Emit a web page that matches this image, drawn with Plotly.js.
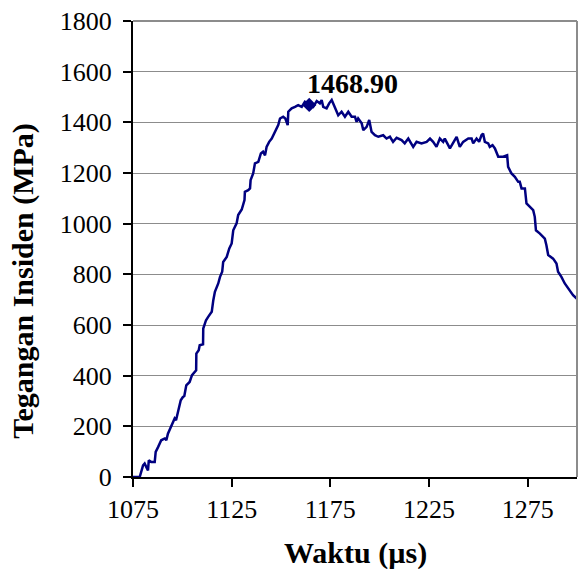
<!DOCTYPE html>
<html>
<head>
<meta charset="utf-8">
<script src="https://cdn.plot.ly/plotly-3.0.1.min.js"></script>
<style>html,body{margin:0;padding:0;background:#fff;}#chart{width:586px;height:569px;}</style>
</head>
<body>
<div id="chart"></div>
<script>
// Time (µs)
var waktu = [1075,1078.4,1080.1,1080.9,1081.7,1082.6,1083.0,1084.3,1086.0,1086.5,1087.7,1089.3,1091.1,1091.9,1092.7,1094.4,1096.1,1096.8,1097.8,1099.2,1100.3,1101.0,1102.0,1103.7,1104.9,1106.3,1107.0,1107.1,1108.3,1108.8,1110.5,1110.6,1112.0,1113.1,1114.9,1115.7,1116.5,1118.2,1119.1,1120.2,1120.7,1122.5,1123.8,1125.0,1125.8,1127.5,1128.3,1130.1,1130.9,1131.5,1131.7,1133.4,1134.3,1134.6,1135.9,1136.8,1138.5,1139.8,1140.9,1141.9,1142.7,1144.0,1145.3,1146.9,1148.6,1149.5,1151.1,1152.2,1153.4,1153.7,1155.4,1157.1,1158.7,1160.5,1162.1,1164.3,1166.3,1168.1,1169.7,1170.6,1171.4,1173.1,1174.4,1175.7,1177.3,1179.0,1180.7,1182.4,1184.1,1185.8,1187.5,1188.3,1189.1,1190.9,1191.7,1193.4,1194.7,1195.9,1197.6,1199.3,1201.8,1203.5,1205.2,1206.8,1208.6,1211.1,1212.7,1214.5,1217.0,1218.7,1221.2,1223.8,1225.5,1227.1,1228.8,1230.5,1232.2,1233.0,1235.6,1237.3,1239.0,1240.6,1242.3,1244.9,1246.6,1247.4,1249.1,1250.4,1251.6,1252.4,1253.3,1255.0,1255.8,1257.2,1258.4,1260.1,1262.6,1264.6,1265.1,1266.8,1268.5,1270.2,1271.0,1271.9,1273.6,1274.4,1276.1,1277.8,1278.6,1279.2,1281.2,1283.7,1284.5,1285.4,1287.9,1289.6,1290.4,1292.1,1293.8,1296.4,1298.0,1299.8,1301.4,1303.0];
// Incident stress (MPa)
var tegangan = [0,0,46,53,40,26,66,59,59,99,118,145,152,145,171,204,231,224,263,303,316,320,362,375,402,415,421,487,500,520,524,586,619,632,652,698,731,764,790,810,849,869,902,922,974,1001,1034,1056,1080,1093,1126,1132,1139,1172,1198,1238,1244,1277,1284,1270,1303,1323,1336,1362,1389,1415,1422,1415,1389,1442,1455,1461,1468,1461,1481,1468.9,1461,1484,1475,1488,1461,1455,1475,1488,1455,1428,1442,1422,1442,1422,1422,1402,1415,1396,1369,1382,1409,1362,1349,1343,1349,1336,1343,1323,1339,1330,1317,1336,1303,1323,1317,1323,1336,1323,1303,1336,1323,1336,1297,1323,1343,1303,1323,1336,1336,1317,1336,1323,1349,1356,1323,1317,1303,1310,1297,1264,1264,1270,1224,1198,1185,1165,1165,1139,1139,1080,1066,1053,1027,974,961,941,915,876,862,843,810,790,764,737,718,705,711,700];
// Peak point
var peakT = [1164.3];
var peakV = [1468.9];
var peakLabel = ["1468.90"];
var xTicks = [1075,1125,1175,1225,1275];
var yTicks = [0,200,400,600,800,1000,1200,1400,1600,1800];

var serif = "Liberation Serif";
var navy = "#000080";

var traces = [
  {x: waktu, y: tegangan, type: "scatter", mode: "lines",
   line: {color: navy, width: 2.5}, hoverinfo: "skip"},
  {x: peakT, y: peakV, type: "scatter", mode: "markers",
   marker: {symbol: "diamond", size: 11, color: navy}, hoverinfo: "skip"}
];

var tickFont = {family: serif, size: 26, color: "#000", weight: "normal"};

var layout = {
  width: 586, height: 569,
  margin: {l: 133, r: 9, t: 21, b: 92},
  paper_bgcolor: "#fff", plot_bgcolor: "#fff",
  showlegend: false,
  font: {family: serif, color: "#000", size: 26},
  xaxis: {
    range: [1075, 1300], tickmode: "array", tickvals: xTicks, ticktext: xTicks.map(String),
    showgrid: false, zeroline: false,
    showline: true, linecolor: "#000", linewidth: 2,
    ticks: "outside", ticklen: 8, tickwidth: 2, tickcolor: "#000",
    ticklabelstandoff: 0,
    tickfont: tickFont
  },
  yaxis: {
    range: [0, 1800], tickmode: "array", tickvals: yTicks, ticktext: yTicks.map(String),
    showgrid: true, gridcolor: "#8c8c8c", gridwidth: 1,
    zeroline: false,
    showline: true, linecolor: "#000", linewidth: 2,
    ticks: "outside", ticklen: 8, tickwidth: 2, tickcolor: "#000",
    ticklabelstandoff: 6,
    tickfont: tickFont
  },
  shapes: [
    {type: "line", xref: "paper", yref: "paper", x0: 0, x1: 1, y0: 1, y1: 1,
     line: {color: "#8c8c8c", width: 2}},
    {type: "line", xref: "paper", yref: "paper", x0: 1, x1: 1, y0: 0, y1: 1,
     line: {color: "#8c8c8c", width: 2}}
  ],
  annotations: [
    {x: 1186, y: 1555, xref: "x", yref: "y", text: peakLabel[0], showarrow: false,
     font: {family: serif, size: 28, color: "#000", weight: "bold"},
     xanchor: "center", yanchor: "middle"},
    {x: -0.248, y: 0.43, xref: "paper", yref: "paper", text: "Tegangan Insiden (MPa)",
     textangle: -90, showarrow: false, xanchor: "center", yanchor: "middle",
     font: {family: serif, size: 30, color: "#000", weight: "bold"}},
    {x: 0.502, y: -0.167, xref: "paper", yref: "paper", text: "Waktu (µs)",
     showarrow: false, xanchor: "center", yanchor: "middle",
     font: {family: serif, size: 30, color: "#000", weight: "bold"}}
  ]
};

Plotly.newPlot("chart", traces, layout, {displayModeBar: false, staticPlot: true});
</script>
</body>
</html>
